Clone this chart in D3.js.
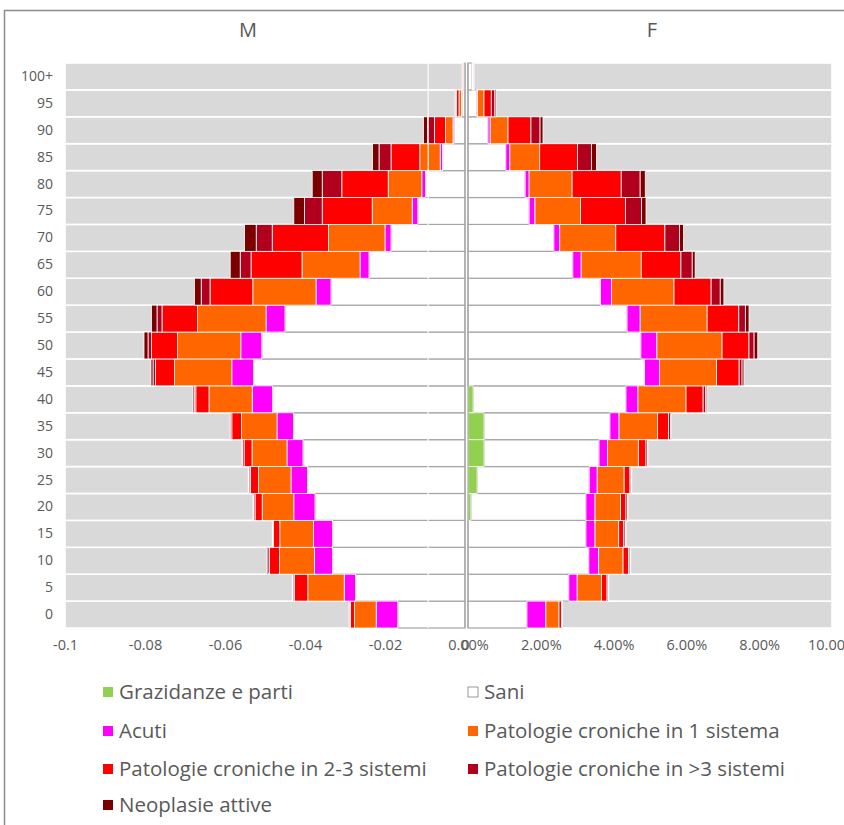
<!DOCTYPE html>
<html><head><meta charset="utf-8">
<script src="https://cdn.jsdelivr.net/npm/d3@7"></script>
<style>body{margin:0;background:#fff} svg{display:block}</style>
</head><body>
<svg id="c" width="844" height="825"></svg>
<script>
// ---- DATA (ages bottom -> top) ----
const ages = ["0","5","10","15","20","25","30","35","40","45","50","55","60","65","70","75","80","85","90","95","100+"];
const seriesNames = ["Grazidanze e parti","Sani","Acuti","Patologie croniche in 1 sistema","Patologie croniche in 2-3 sistemi","Patologie croniche in >3 sistemi","Neoplasie attive"];
const seriesColors = ["#92d050","#ffffff","#ff00ff","#ff6600","#ff0000","#b0001e","#7a0000"];

// Maschi (M)
const mGrav  = [0,0,0,0,0,0,0,0,0,0,0,0,0,0,0,0,0,0,0,0,0];
const mSani  = [0.0168,0.0274,0.0331,0.0331,0.0375,0.0394,0.0405,0.0429,0.0481,0.0529,0.0508,0.0450,0.0335,0.0240,0.0185,0.0118,0.0099,0.0056,0.00275,0.0008,0.0002];
const mAcuti = [0.0054,0.0028,0.0045,0.0048,0.0053,0.0041,0.0040,0.0041,0.0051,0.0054,0.00525,0.00475,0.00375,0.00225,0.0015,0.0014,0.0009,0.0006,0.00025,0.0001,0.00005];
const mPat1  = [0.0054,0.0091,0.0088,0.0084,0.0079,0.0081,0.00875,0.0089,0.0108,0.0143,0.0158,0.0171,0.0158,0.0145,0.0141,0.0100,0.0084,0.0051,0.0019,0.0006,0.0001];
const mPat23 = [0.0010,0.0034,0.0025,0.0016,0.0018,0.0020,0.0020,0.0024,0.0033,0.0048,0.0065,0.0089,0.0107,0.01275,0.0141,0.0125,0.0116,0.0072,0.00275,0.0006,0.0002];
const mPat3  = [0.0003,0.0003,0.0004,0.0002,0.0003,0.0004,0.0004,0.0004,0.0004,0.0006,0.0009,0.00125,0.0022,0.0027,0.0040,0.0044,0.0049,0.0030,0.00175,0.0003,0.0001];
const mNeo   = [0.0002,0.0002,0.0003,0.0001,0.0002,0.0002,0.0002,0.0001,0.0003,0.0005,0.0010,0.0014,0.0017,0.0025,0.0029,0.0027,0.0025,0.0016,0.0010,0.0001,0.0001];

// Femmine (F)
const fGrav  = [0,0,0,0,0.0008,0.0025,0.0044,0.0044,0.0014,0,0,0,0,0,0,0,0,0,0,0,0];
const fSani  = [0.0162,0.0277,0.0332,0.0324,0.0316,0.0308,0.0316,0.0346,0.0420,0.0485,0.0475,0.0437,0.0364,0.0288,0.0236,0.0168,0.0157,0.0104,0.0055,0.0024,0.0011];
const fAcuti = [0.0052,0.0023,0.0027,0.0025,0.0025,0.0022,0.0023,0.0025,0.0033,0.0041,0.0044,0.0036,0.0030,0.0023,0.0016,0.0016,0.0011,0.0011,0.0006,0.0002,0.0001];
const fPat1  = [0.0036,0.0067,0.0067,0.0065,0.0070,0.0074,0.0085,0.0106,0.0132,0.0157,0.0179,0.0184,0.0172,0.0165,0.0154,0.0125,0.0118,0.0082,0.0049,0.0018,0.0002];
const fPat23 = [0.0007,0.0015,0.0015,0.0014,0.0015,0.0016,0.0021,0.0030,0.0047,0.0062,0.0074,0.0087,0.0102,0.0109,0.0135,0.0124,0.0135,0.0104,0.0063,0.0020,0.0002];
const fPat3  = [0.0002,0.0003,0.0004,0.0004,0.0004,0.0003,0.0004,0.0005,0.0007,0.0008,0.0014,0.0018,0.0025,0.0031,0.0040,0.0044,0.0052,0.0038,0.0025,0.0010,0.0001];
const fNeo   = [0.0001,0.0002,0.0002,0.0002,0.0002,0.0002,0.0002,0.0003,0.0003,0.0005,0.0010,0.0010,0.0010,0.0008,0.0011,0.0012,0.0014,0.0014,0.0008,0.0003,0.0001];

const xTicksM = [-0.1,-0.08,-0.06,-0.04,-0.02,0];
const xTicksF = [0,0.02,0.04,0.06,0.08,0.1];
const panelTitles = ["M","F"];
const markerLineM = -0.0092;

// ---- CHART ----
const svg = d3.select("#c");
const txt = "#595959";
const font = "'Open Sans', sans-serif";

svg.append("rect").attr("x",4.5).attr("y",10.5).attr("width",900).attr("height",900)
  .attr("fill","#fff").attr("stroke","#8c8c8c").attr("stroke-width",1.5);

const plotTop = 63, plotBottom = 628;
const xM = d3.scaleLinear().domain([-0.1,0]).range([65,465]);
const xF = d3.scaleLinear().domain([0,0.1]).range([468,832]);
const y = d3.scaleBand().domain(ages.slice().reverse()).range([plotTop,plotBottom]).padding(0);

const mSeries = [mGrav,mSani,mAcuti,mPat1,mPat23,mPat3,mNeo];
const fSeries = [fGrav,fSani,fAcuti,fPat1,fPat23,fPat3,fNeo];

function stackRows(series){
  const out = [];
  ages.forEach((a,i)=>{
    let c = 0;
    series.forEach((s,k)=>{
      const v = s[i];
      out.push({age:a, k, x0:c, x1:c+v});
      c += v;
    });
  });
  return out;
}

function drawPanel(series, x, sign, domainEdge){
  const g = svg.append("g");
  g.selectAll("rect.bg").data(ages).join("rect")
    .attr("x", d=>Math.min(x(0), x(domainEdge)))
    .attr("width", Math.abs(x(domainEdge)-x(0)))
    .attr("y", d=>y(d)).attr("height", y.bandwidth())
    .attr("fill","#d9d9d9").attr("stroke","#fff").attr("stroke-width",1.6);
  const segs = stackRows(series).filter(d=>d.x1>d.x0);
  const sani = segs.filter(d=>d.k===1), other = segs.filter(d=>d.k!==1);
  g.selectAll("rect.sani").data(sani).join("rect")
    .attr("x", d=>Math.min(x(sign*d.x0), x(sign*d.x1)))
    .attr("width", d=>Math.abs(x(sign*d.x1)-x(sign*d.x0)))
    .attr("y", d=>y(d.age)).attr("height", y.bandwidth())
    .attr("fill","#fff").attr("stroke","#a6a6a6").attr("stroke-width",1.2);
  g.selectAll("rect.seg").data(other).join("rect")
    .attr("x", d=>Math.min(x(sign*d.x0), x(sign*d.x1)))
    .attr("width", d=>Math.abs(x(sign*d.x1)-x(sign*d.x0)))
    .attr("y", d=>y(d.age)).attr("height", y.bandwidth())
    .attr("fill", d=>seriesColors[d.k]).attr("stroke","#fff").attr("stroke-width",0.8);
  g.append("line").attr("x1",x(0)).attr("x2",x(0)).attr("y1",plotTop).attr("y2",plotBottom)
    .attr("stroke","#a6a6a6").attr("stroke-width",1.2);
}

drawPanel(mSeries, xM, -1, -0.1);
drawPanel(fSeries, xF, 1, 0.1);

svg.append("line").attr("x1",xM(markerLineM)).attr("x2",xM(markerLineM))
  .attr("y1",plotTop).attr("y2",plotBottom).attr("stroke","#fff").attr("stroke-width",1.4).attr("opacity",0.85);

function styleAxis(g, size){
  g.select(".domain").remove();
  g.selectAll("text").attr("fill",txt).style("font-family",font).style("font-size",size+"px");
}
svg.append("g").attr("transform",`translate(0,${plotBottom})`)
  .call(d3.axisBottom(xM).tickValues(xTicksM).tickSize(0).tickPadding(12)
        .tickFormat(d=> d===0 ? "0" : String(d)))
  .call(g=>styleAxis(g,14.5));
svg.append("g").attr("transform",`translate(0,${plotBottom})`)
  .call(d3.axisBottom(xF).tickValues(xTicksF).tickSize(0).tickPadding(12)
        .tickFormat(d3.format(".2%")))
  .call(g=>styleAxis(g,14.5));
svg.append("g").attr("transform",`translate(56,0)`)
  .call(d3.axisLeft(y).tickSize(0).tickPadding(3))
  .call(g=>styleAxis(g,14));

svg.selectAll("text.ptitle").data(panelTitles).join("text")
  .attr("x",(d,i)=> i===0 ? 248 : 652).attr("y",37).attr("text-anchor","middle")
  .attr("fill",txt).style("font-family",font).style("font-size","20px").text(d=>d);

const legCols = [103, 468], legRows = [692, 731, 769, 805];
const leg = svg.append("g");
seriesNames.forEach((n,i)=>{
  const cx = legCols[i%2], cy = legRows[Math.floor(i/2)];
  leg.append("rect").attr("x",cx).attr("y",cy-5).attr("width",10).attr("height",10)
    .attr("fill",seriesColors[i]).attr("stroke", i===1 ? "#7f7f7f" : "none").attr("stroke-width",0.8);
  leg.append("text").attr("x",cx+16).attr("y",cy).attr("dy","0.35em")
    .attr("fill",txt).style("font-family",font).style("font-size","20.5px").text(n);
});
</script>
</body></html>
